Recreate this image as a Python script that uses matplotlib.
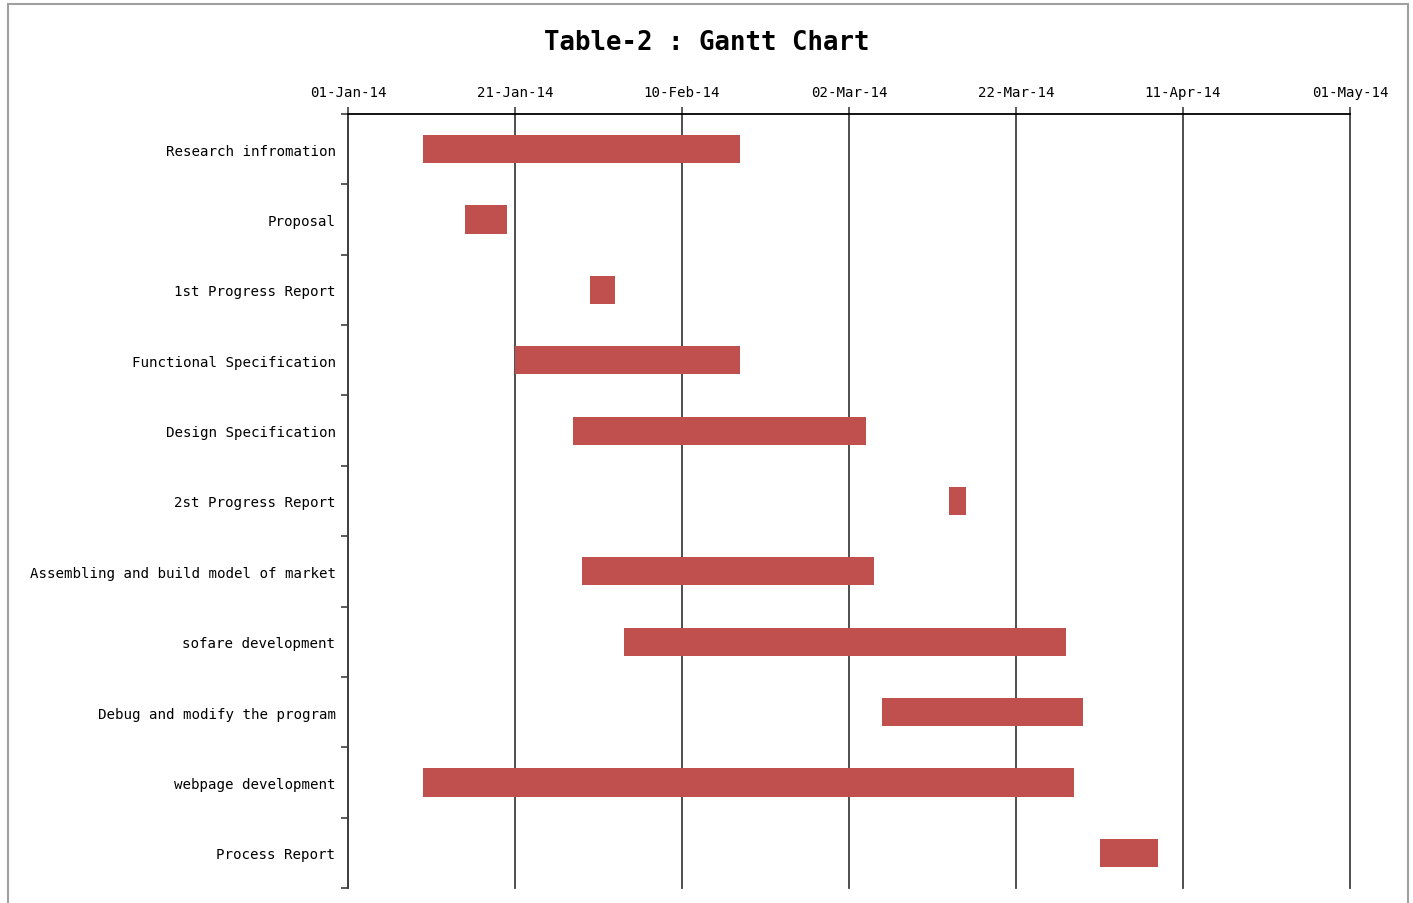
import matplotlib.pyplot as plt
import matplotlib.dates as mdates
from matplotlib.patches import Rectangle
from datetime import datetime, timedelta

tasks = [
    'Research infromation',
    'Proposal',
    '1st Progress Report',
    'Functional Specification',
    'Design Specification',
    '2st Progress Report',
    'Assembling and build model of market',
    'sofare development',
    'Debug and modify the program',
    'webpage development',
    'Process Report',
]
starts = [
    '2014-01-10', '2014-01-15', '2014-01-30', '2014-01-21', '2014-01-28',
    '2014-03-14', '2014-01-29', '2014-02-03', '2014-03-06', '2014-01-10',
    '2014-04-01',
]
durations = [38, 5, 3, 27, 35, 2, 35, 53, 24, 78, 7]

axis_start = '2014-01-01'
axis_end = '2014-05-01'

plt.rcParams['font.family'] = ['DejaVu Sans Mono']

fig = plt.figure(figsize=(14.13, 9.04), dpi=100)
ax = fig.add_axes([348 / 1413, 1 - 889 / 904, (1350 - 348) / 1413, (889 - 115) / 904])

start_nums = [mdates.date2num(datetime.strptime(s, '%Y-%m-%d')) for s in starts]
ypos = list(range(len(tasks)))
ax.barh(ypos, durations, left=start_nums, height=0.4, color='#C0504D', zorder=3)

x0 = datetime.strptime(axis_start, '%Y-%m-%d')
x1 = datetime.strptime(axis_end, '%Y-%m-%d')
ax.set_xlim(mdates.date2num(x0), mdates.date2num(x1))
ticks = []
d = x0
while d <= x1:
    ticks.append(mdates.date2num(d))
    d += timedelta(days=20)
ax.set_xticks(ticks)
ax.xaxis.set_major_formatter(mdates.DateFormatter('%d-%b-%y'))
ax.xaxis.tick_top()
ax.tick_params(axis='x', length=5, width=1.2, color='#404040', labelsize=10.2, pad=6)
ax.grid(axis='x', color='#404040', linewidth=1.3, zorder=1)
for gl in ax.get_xgridlines():
    gl.set_clip_on(False)

ax.set_ylim(len(tasks) - 0.5, -0.5)
ax.set_yticks(ypos)
ax.set_yticklabels(tasks)
ax.set_yticks([i - 0.5 for i in range(len(tasks) + 1)], minor=True)
ax.tick_params(axis='y', which='major', length=0, labelsize=10.2, pad=9)
ax.tick_params(axis='y', which='minor', length=5, width=1.2, color='#404040')

for side in ['bottom', 'right']:
    ax.spines[side].set_visible(False)
ax.spines['top'].set_linewidth(1.3)
ax.spines['left'].set_linewidth(1.3)
ax.spines['left'].set_color('#404040')

fig.text(0.5, 1 - 43 / 904, 'Table-2 : Gantt Chart', ha='center', va='center',
         fontsize=18.5, fontweight='bold')

fig.patches.append(Rectangle((8 / 1413, -0.01), 1400 / 1413, 1 - 5 / 904 + 0.01,
                             transform=fig.transFigure, fill=False,
                             edgecolor='#A0A0A0', linewidth=1.5))

fig.savefig('out.png', dpi=100)
